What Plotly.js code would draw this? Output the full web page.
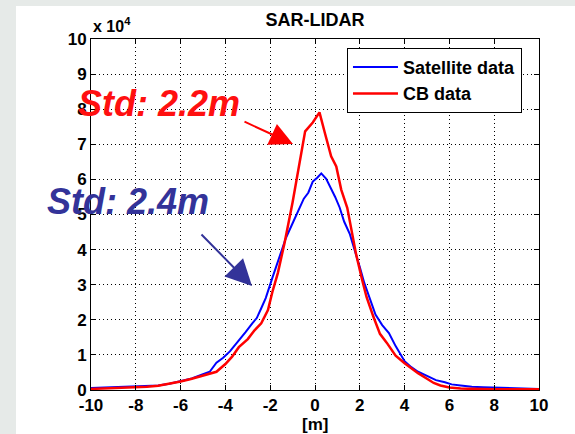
<!DOCTYPE html>
<html>
<head>
<meta charset="utf-8">
<script src="https://cdn.plot.ly/plotly-3.0.1.min.js"></script>
<style>
  html, body { margin: 0; padding: 0; background: #e6eae8; }
  #chart { width: 575px; height: 434px; }
</style>
</head>
<body>
<div id="chart"></div>
<script>
// Values in units of 10^4 (as labelled on the y axis)
const satX = [-10, -9.5, -9, -8.5, -8, -7.5, -7, -6.5, -6, -5.5, -5, -4.7, -4.4, -4.1, -3.8, -3.5, -3.1, -2.8, -2.6, -2.4, -2.2, -1.9, -1.6, -1.3, -1.0, -0.7, -0.5, -0.3, -0.1, 0.1, 0.28, 0.5, 0.72, 0.9, 1.1, 1.3, 1.55, 1.75, 2.0, 2.2, 2.5, 2.7, 3.0, 3.3, 3.6, 3.8, 4.0, 4.3, 4.6, 5.0, 5.4, 5.8, 6.1, 6.5, 7.0, 7.5, 8.0, 8.6, 9.0, 9.5, 10];
const satY = [0.06, 0.07, 0.08, 0.08, 0.09, 0.11, 0.13, 0.18, 0.25, 0.33, 0.45, 0.52, 0.78, 0.92, 1.1, 1.33, 1.65, 1.9, 2.05, 2.33, 2.62, 3.2, 3.75, 4.33, 4.75, 5.15, 5.45, 5.62, 5.94, 6.05, 6.17, 6.02, 5.75, 5.5, 5.2, 4.8, 4.45, 4.05, 3.5, 3.05, 2.47, 2.15, 1.85, 1.62, 1.25, 1.05, 0.82, 0.65, 0.52, 0.4, 0.28, 0.22, 0.16, 0.13, 0.09, 0.08, 0.07, 0.05, 0.04, 0.03, 0.03];

const cbX = [-10, -9.5, -9, -8.5, -8, -7.5, -7, -6.5, -6, -5.5, -5, -4.7, -4.4, -4.0, -3.7, -3.4, -3.0, -2.7, -2.4, -2.1, -1.9, -1.66, -1.36, -1.0, -0.84, -0.62, -0.44, -0.1, 0.2, 0.45, 0.72, 0.95, 1.17, 1.44, 1.65, 1.84, 2.1, 2.3, 2.6, 2.9, 3.2, 3.6, 4.0, 4.3, 4.6, 5.0, 5.3, 5.6, 6.0, 6.5, 7.0, 8.0, 9.0, 10];
const cbY = [0.03, 0.04, 0.05, 0.07, 0.08, 0.09, 0.12, 0.17, 0.24, 0.32, 0.42, 0.46, 0.52, 0.74, 0.95, 1.22, 1.45, 1.7, 1.9, 2.28, 2.8, 3.33, 4.19, 5.35, 5.9, 6.66, 7.37, 7.62, 7.91, 7.3, 6.66, 6.37, 5.71, 5.19, 4.5, 3.85, 3.15, 2.65, 2.1, 1.6, 1.35, 0.98, 0.76, 0.62, 0.48, 0.32, 0.2, 0.13, 0.07, 0.04, 0.03, 0.02, 0.02, 0.02];

const seriesNames = ['Satellite data', 'CB data'];
const xTicks = [-10, -8, -6, -4, -2, 0, 2, 4, 6, 8, 10];
const yTicks = [0, 1, 2, 3, 4, 5, 6, 7, 8, 9, 10];

const FONT = 'Liberation Sans, Arial, sans-serif';
const bold = s => '<b>' + s + '</b>';

const traces = [
  { x: satX, y: satY, type: 'scatter', mode: 'lines', name: bold(seriesNames[0]),
    line: { color: '#0000ff', width: 2 } },
  { x: cbX, y: cbY, type: 'scatter', mode: 'lines', name: bold(seriesNames[1]),
    line: { color: '#ff0000', width: 2.5 } }
];

const axisCommon = {
  showline: true, linecolor: '#000', linewidth: 1, mirror: 'allticks',
  ticks: 'inside', ticklen: 5, tickwidth: 1, tickcolor: '#000',
  showgrid: true, gridcolor: '#000', gridwidth: 1, griddash: '1px,3px',
  zeroline: false,
  tickfont: { family: FONT, size: 17, color: '#000' }
};

const layout = {
  width: 575, height: 434,
  margin: { l: 91, r: 36, t: 39, b: 44 },
  paper_bgcolor: '#e6eae8',
  plot_bgcolor: '#ffffff',
  showlegend: true,
  title: { text: bold('SAR-LIDAR'), font: { family: FONT, size: 18, color: '#000' },
           xref: 'paper', x: 0.5, xanchor: 'center', yref: 'container', y: 1 - 19.5 / 434, yanchor: 'middle' },
  xaxis: Object.assign({}, axisCommon, { range: [-10, 10], tickvals: xTicks, ticktext: xTicks.map(v => bold(String(v))) }),
  yaxis: Object.assign({}, axisCommon, { range: [0, 10], tickvals: yTicks, ticktext: yTicks.map(v => bold(String(v))) }),
  legend: {
    x: 0.962, xanchor: 'right', y: 0.975, yanchor: 'top',
    bgcolor: '#ffffff', bordercolor: '#000', borderwidth: 1,
    font: { family: FONT, size: 18, color: '#000' },
    itemwidth: 45, tracegroupgap: 0
  },
  shapes: [
    { type: 'rect', xref: 'paper', yref: 'paper', layer: 'below',
      x0: (16 - 91) / 448, x1: (580 - 91) / 448, y0: (390 - 440) / 351, y1: (390 - 6) / 351,
      fillcolor: '#ffffff', line: { width: 0 } }
  ],
  annotations: [
    { xref: 'paper', yref: 'paper', x: 0.5, y: (390 - 424) / 351, xanchor: 'center', yanchor: 'middle',
      text: bold('[m]'), showarrow: false, font: { family: FONT, size: 17, color: '#000' } },
    { xref: 'paper', yref: 'paper', x: 0, y: (390 - 25) / 351, xanchor: 'left', yanchor: 'middle',
      text: bold('x 10<sup>4</sup>'), showarrow: false, font: { family: FONT, size: 16, color: '#000' } },
    // arrows
    { xref: 'paper', yref: 'paper', x: (293 - 91) / 448, y: (390 - 144) / 351, ax: -50, ay: -23,
      text: '', showarrow: true, arrowhead: 2, arrowsize: 2.3, arrowwidth: 2, arrowcolor: '#ff0000' },
    { xref: 'paper', yref: 'paper', x: (252 - 91) / 448, y: (390 - 286) / 351, ax: -52, ay: -53,
      text: '', showarrow: true, arrowhead: 2, arrowsize: 2.6, arrowwidth: 2, arrowcolor: '#333399' },
    // Std labels
    { xref: 'paper', yref: 'paper', x: (76 - 91) / 448, y: (390 - 103) / 351, xanchor: 'left', yanchor: 'middle',
      text: '<b><i>Std: 2.2m</i></b>', showarrow: false, font: { family: FONT, size: 36, color: '#ff1010' } },
    { xref: 'paper', yref: 'paper', x: (45 - 91) / 448, y: (390 - 201) / 351, xanchor: 'left', yanchor: 'middle',
      text: '<b><i>Std: 2.4m</i></b>', showarrow: false, font: { family: FONT, size: 36, color: '#333399' } }
  ]
};

Plotly.newPlot('chart', traces, layout, { staticPlot: true, displayModeBar: false });
</script>
</body>
</html>
